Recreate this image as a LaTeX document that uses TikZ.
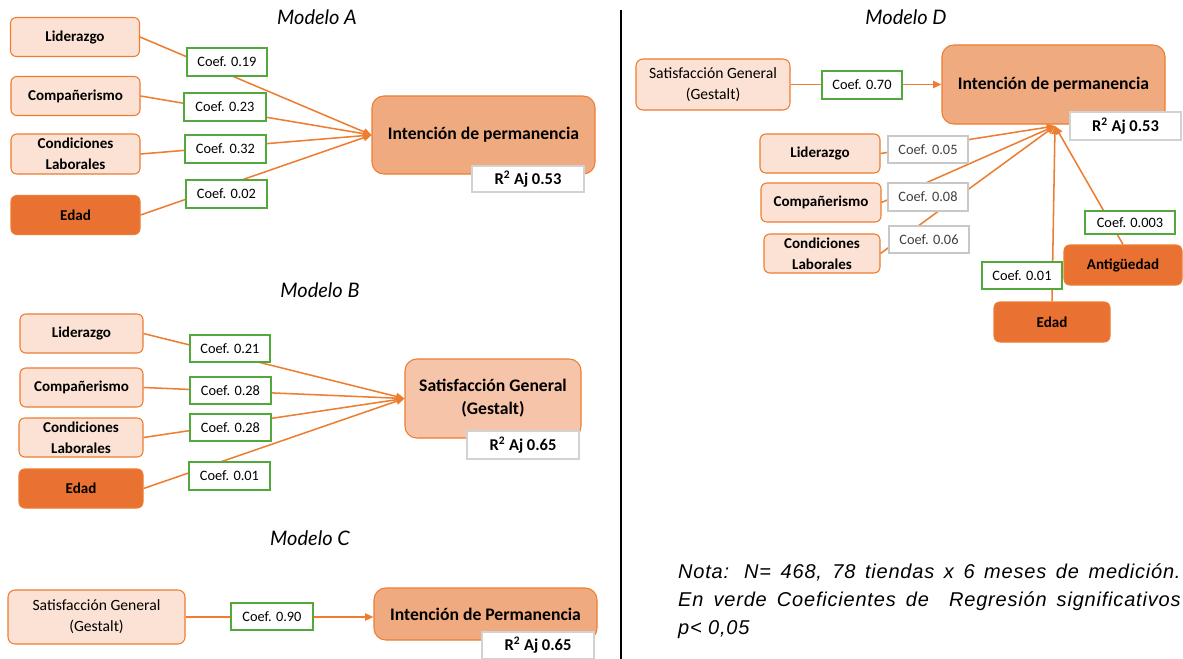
\documentclass[tikz,border=0pt]{standalone}
\usepackage{fontspec}
\setmainfont{Carlito}
\newfontfamily\notafont{Liberation Sans}[LetterSpace=4]
\newfontfamily\titlefont{Lato}
\usetikzlibrary{arrows.meta}
\definecolor{orA}{HTML}{ED7D31}
\definecolor{peach}{HTML}{FCE2D4}
\definecolor{darkor}{HTML}{E97132}
\definecolor{tgtA}{HTML}{F0AA80}
\definecolor{tgtB}{HTML}{F6C4A8}
\definecolor{grn}{HTML}{52A83A}
\definecolor{gry}{HTML}{C8C8C8}
\definecolor{rgry}{HTML}{D2D2D2}
\begin{document}
\begin{tikzpicture}[x=0.85pt,y=-0.85pt,
  base/.style 2 args={rectangle, inner sep=0pt, minimum width=#1*0.85pt, minimum height=#2*0.85pt, align=center},
  lbox/.style 2 args={base={#1}{#2}, draw=orA, fill=peach, rounded corners=5pt, line width=0.9pt, font=\fontsize{12.8}{18}\selectfont\bfseries},
  sbox/.style 2 args={base={#1}{#2}, draw=orA, fill=peach, rounded corners=6pt, line width=0.9pt, font=\fontsize{13.3}{18}\selectfont},
  dbox/.style 2 args={base={#1}{#2}, draw=orA, fill=darkor, rounded corners=5pt, line width=0.9pt, font=\fontsize{12.8}{18}\selectfont\bfseries},
  tbox/.style n args={3}{base={#1}{#2}, draw=orA, fill=#3, rounded corners=10pt, line width=0.9pt, font=\fontsize{15}{19.5}\selectfont\bfseries},
  coef/.style 2 args={base={#1}{#2}, draw=grn, fill=white, line width=1.5pt, font=\fontsize{12.2}{14}\selectfont},
  ncoef/.style 2 args={base={#1}{#2}, draw=gry, fill=white, line width=1.5pt, text=black!75, font=\fontsize{12.2}{14}\selectfont},
  rbox/.style 2 args={base={#1}{#2}, draw=rgry, fill=white, line width=1.3pt, font=\fontsize{14}{16}\selectfont\bfseries},
  ttl/.style={inner sep=0pt, font=\fontsize{17}{19}\selectfont\titlefont\itshape},
  conn/.style={draw=orA, line width=1.3pt},
  arr/.style={conn, -{Triangle[length=7pt,width=6pt]}}
]
\useasboundingbox (0,0) rectangle (1183,659);
\fill[white] (0,0) rectangle (1183,659);

% separator
\coordinate (sepT) at (621,10);
\coordinate (sepB) at (621,659);
\draw[line width=1.2pt] (sepT) -- (sepB);

% ===== Modelo A =====
\node[ttl] (titA) at (317,17) {Modelo A};
\node[lbox={129}{39}] (lidA) at (75,37) {Liderazgo};
\node[lbox={129}{39}] (comA) at (75.5,96) {Compañerismo};
\node[lbox={129}{40}] (conA) at (75.5,154) {Condiciones\\Laborales};
\node[dbox={129}{39}] (edaA) at (75.5,215) {Edad};
\node[tbox={223}{78}{tgtA}] (tA) at (483.5,135) {Intención de permanencia};
\node[rbox={112}{26}] (rA) at (528,179) {R\textsuperscript{2} Aj 0.53};
\draw[arr] (lidA.east) -- (tA.west);
\draw[arr] (comA.east) -- (tA.west);
\draw[arr] (conA.east) -- (tA.west);
\draw[arr] (edaA.east) -- (tA.west);
\node[coef={80}{28}] (cA1) at (227,62) {Coef. 0.19};
\node[coef={82}{28}] (cA2) at (225,107) {Coef. 0.23};
\node[coef={81}{28}] (cA3) at (225.5,149) {Coef. 0.32};
\node[coef={81}{28}] (cA4) at (226.5,194) {Coef. 0.02};

% ===== Modelo B =====
\node[ttl] (titB) at (320,290) {Modelo B};
\node[lbox={123}{39}] (lidB) at (81.5,333.5) {Liderazgo};
\node[lbox={123}{39}] (comB) at (81.5,387.5) {Compañerismo};
\node[lbox={124}{39}] (conB) at (81,437.5) {Condiciones\\Laborales};
\node[dbox={124}{39}] (edaB) at (81,488.5) {Edad};
\node[tbox={176}{79}{tgtB}] (tB) at (493,398.5) {Satisfacción General\\(Gestalt)};
\node[rbox={112}{28}] (rB) at (523,445) {R\textsuperscript{2} Aj 0.65};
\draw[arr] (lidB.east) -- (tB.west);
\draw[arr] (comB.east) -- (tB.west);
\draw[arr] (conB.east) -- (tB.west);
\draw[arr] (edaB.east) -- (tB.west);
\node[coef={80}{27}] (cB1) at (230,348.5) {Coef. 0.21};
\node[coef={81}{27}] (cB2) at (230.5,390.5) {Coef. 0.28};
\node[coef={81}{27}] (cB3) at (230.5,427.5) {Coef. 0.28};
\node[coef={81}{28}] (cB4) at (229.5,476) {Coef. 0.01};

% ===== Modelo C =====
\node[ttl] (titC) at (310,538) {Modelo C};
\node[sbox={177}{54}] (satC) at (96.5,617) {Satisfacción General\\(Gestalt)};
\node[tbox={223}{52}{tgtA}] (tC) at (485.5,614) {Intención de Permanencia};
\node[rbox={112}{27}] (rC) at (538,645.5) {R\textsuperscript{2} Aj 0.65};
\draw[arr] (satC.east) -- (satC.east -| tC.west);
\node[coef={82}{27}] (cC1) at (272,616.5) {Coef. 0.90};

% ===== Modelo D =====
\node[ttl] (titD) at (906,17) {Modelo D};
\node[sbox={154}{51}] (satD) at (713,84.5) {Satisfacción General\\(Gestalt)};
\node[tbox={223}{79}{tgtA}] (tD) at (1053.5,84.5) {Intención de permanencia};
\node[rbox={111}{28}] (rD) at (1125.5,126) {R\textsuperscript{2} Aj 0.53};
\coordinate (apD) at (1055,126);
\node[lbox={120}{39}] (lidD) at (820,153.5) {Liderazgo};
\node[lbox={120}{39}] (comD) at (821,202.5) {Compañerismo};
\node[lbox={116}{39}] (conD) at (822,253.5) {Condiciones\\Laborales};
\node[dbox={118}{40}] (antD) at (1123,265) {Antigüedad};
\node[dbox={116}{40}] (edaD) at (1052,322) {Edad};
\draw[arr] (satD.east) -- (satD.east -| tD.west);
\draw[arr] (lidD.east) -- (apD);
\draw[arr] (comD.east) -- (apD);
\draw[arr] (conD.east) -- (apD);
\draw[arr] (edaD.north) -- (apD);
\draw[arr] (antD.north) -- (apD);
\node[coef={80}{28}] (cD0) at (862,85) {Coef. 0.70};
\node[ncoef={80}{27}] (cD1) at (928,149.5) {Coef. 0.05};
\node[ncoef={80}{28}] (cD2) at (928,197) {Coef. 0.08};
\node[ncoef={80}{27}] (cD3) at (929,239.5) {Coef. 0.06};
\node[coef={90}{23}] (cD4) at (1130,222.5) {Coef. 0.003};
\node[coef={80}{27}] (cD5) at (1022,275.5) {Coef. 0.01};

% ===== Nota =====
\node[anchor=north west, inner sep=0pt, text width=427pt, align=justify,
      font=\fontsize{17}{23.8}\selectfont\notafont\itshape] (nota) at (678,564)
  {Nota: N= 468, 78 tiendas x 6 meses de medición.\linebreak En verde Coeficientes de \ Regresión significativos\linebreak p< 0,05};
\end{tikzpicture}
\end{document}
